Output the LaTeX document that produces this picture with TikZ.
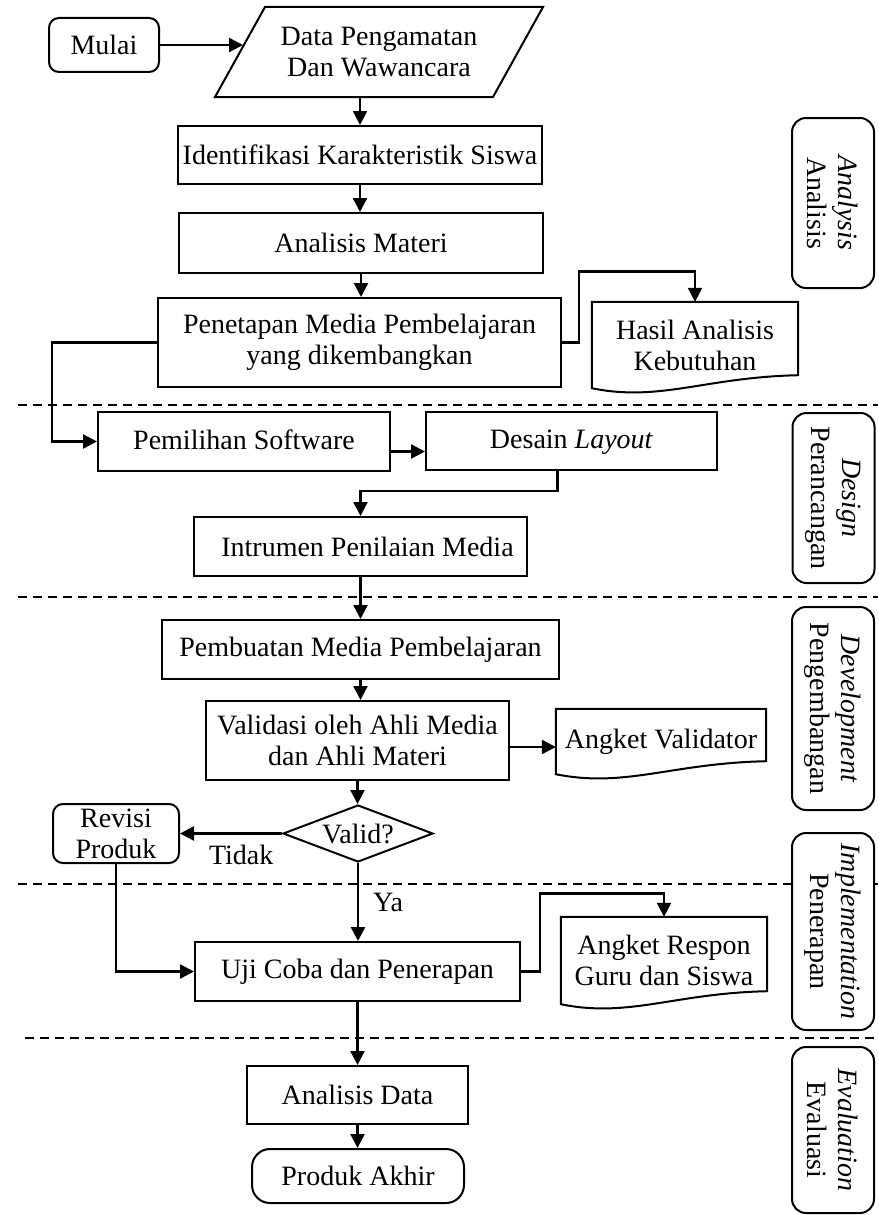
\documentclass[tikz,border=0pt]{standalone}
\usepackage{fontspec}
\setmainfont{Liberation Serif}
\usetikzlibrary{arrows.meta,calc,shapes.geometric}

% outline of a "document" shape around a node: wavy bottom, lower on the left
\newcommand\docoutline[1]{%
  \draw[boxline] (#1.north west) -- (#1.north east) -- ($(#1.south east)+(0,-13)$)
    .. controls ($(#1.south west)!0.55!(#1.south east)+(0,-11)$)
           and ($(#1.south west)!0.33!(#1.south east)+(0,14)$) .. (#1.south west) -- cycle;}

\begin{document}
\begin{tikzpicture}[x=1pt,y=-1pt,
  every node/.style={font=\fontsize{28}{31}\selectfont, inner sep=0pt, align=center},
  boxline/.style={line width=2pt, line join=miter},
  proc/.style={draw, boxline, rectangle},
  term/.style={draw, boxline, rectangle, rounded corners=10pt},
  doc/.style={rectangle},
  decision/.style={draw, boxline, diamond, aspect=2.6, minimum width=150, minimum height=57},
  phase/.style={draw, boxline, rectangle, rounded corners=14pt, fill=white, rotate=-90, minimum height=82},
  arr/.style={line width=2.4pt, -{Triangle[length=14pt,width=14pt]}},
  sep/.style={line width=1.8pt, dash pattern=on 9pt off 6pt}]
\useasboundingbox (0,0) rectangle (878,1215);

% phase separators
\draw[sep] (18,405) -- (878,405);
\draw[sep] (18,597) -- (878,597);
\draw[sep] (18,884) -- (878,884);
\draw[sep] (25,1038) -- (878,1038);

% phase labels
\node[phase, minimum width=170] (pa) at (833,203) {\textit{Analysis}\\Analisis};
\node[phase, minimum width=170] (pd) at (833.5,498) {\textit{Design}\\Perancangan};
\node[phase, minimum width=203] (pv) at (833,708.5) {\textit{Development}\\Pengembangan};
\node[phase, minimum width=197] (pi) at (833,931.5) {\textit{Implementation}\\Penerapan};
\node[phase, minimum width=166] (pe) at (833,1130) {\textit{Evaluation}\\Evaluasi};

% flow nodes
\node[term, minimum width=110, minimum height=54] (mulai) at (104,45) {Mulai};
\draw[boxline] (265,7) -- (543,7) -- (493,97) -- (215,97) -- cycle;
\node[minimum width=228, minimum height=90] (data) at (379,52) {Data Pengamatan\\Dan Wawancara};
\coordinate (datain) at (243,45);

\node[proc, minimum width=364, minimum height=58] (ident) at (360,155) {Identifikasi Karakteristik Siswa};
\node[proc, minimum width=364, minimum height=60] (materi) at (361,243) {Analisis Materi};
\node[proc, minimum width=403, minimum height=89] (tetap) at (359.5,342.5) {Penetapan Media Pembelajaran\\yang dikembangkan};
\node[doc, minimum width=206, minimum height=86] (hasil) at (695,345) {Hasil Analisis\\Kebutuhan};
\docoutline{hasil}

\node[proc, minimum width=292, minimum height=59, text depth=4pt] (pilih) at (244,441.5) {Pemilihan Software};
\node[proc, minimum width=291, minimum height=58, text depth=4pt] (desain) at (571.5,441) {Desain \textit{Layout}};
\node[proc, minimum width=333, minimum height=59] (instr) at (360.5,546.5) {\hspace*{14pt}Intrumen Penilaian Media};

\node[proc, minimum width=397, minimum height=59] (buat) at (360.5,649.5) {Pembuatan Media Pembelajaran};
\node[proc, minimum width=303, minimum height=79] (valid) at (357.5,740.5) {Validasi oleh Ahli Media\\dan Ahli Materi};
\node[doc, minimum width=210, minimum height=65] (angval) at (661,741.5) {Angket Validator};
\docoutline{angval}
\node[decision] (cek) at (358,833.5) {Valid?};
\node[term, minimum width=126, minimum height=59] (revisi) at (116,833.5) {Revisi\\Produk};

\node[proc, minimum width=325, minimum height=59] (uji) at (357.5,971.5) {Uji Coba dan Penerapan};
\node[doc, minimum width=206, minimum height=87] (respon) at (664,960.5) {Angket Respon\\Guru dan Siswa};
\docoutline{respon}

\node[proc, minimum width=221, minimum height=58] (adata) at (357.5,1095) {Analisis Data};
\node[term, rounded corners=18pt, minimum width=212, minimum height=54] (akhir) at (358,1176) {Produk Akhir};

% connectors
\draw[arr] (mulai.east) -- (datain);
\draw[arr] (ident.north |- data.south) -- (ident.north);
\draw[arr] (ident.south) -- (ident.south |- materi.north);
\draw[arr] (materi.south) -- (materi.south |- tetap.north);
\draw[arr] (tetap.east) -| ++(17,-71) -| (hasil.north);
\draw[arr] (tetap.west) -- ++(-105,0) |- (pilih.west);
\path ($(pilih.east)+(0,10)$) coordinate (pout);
\draw[arr] (pout) -- (pout -| desain.west);
\draw[arr] ($(desain.south)+(-14,0)$) -- ++(0,20) -| (instr.north);
\draw[arr] (instr.south) -- (instr.south |- buat.north);
\draw[arr] (buat.south) -- (buat.south |- valid.north);
\path ($(valid.east)+(0,6.5)$) coordinate (vout);
\draw[arr] (vout) -- (vout -| angval.west);
\draw[arr] (valid.south) -- (valid.south |- cek.north);
\draw[arr] (cek.west) -- (revisi.east) node[pos=0.4, below=10pt] {Tidak};
\draw[arr] (cek.south) -- (cek.south |- uji.north) node[pos=0.5, right=14pt] {Ya};
\draw[arr] (revisi.south) |- (uji.west);
\draw[arr] (uji.east) -| ++(19,-78) -| (respon.north);
\draw[arr] (uji.south) -- (uji.south |- adata.north);
\draw[arr] (adata.south) -- (adata.south |- akhir.north);
\end{tikzpicture}
\end{document}
